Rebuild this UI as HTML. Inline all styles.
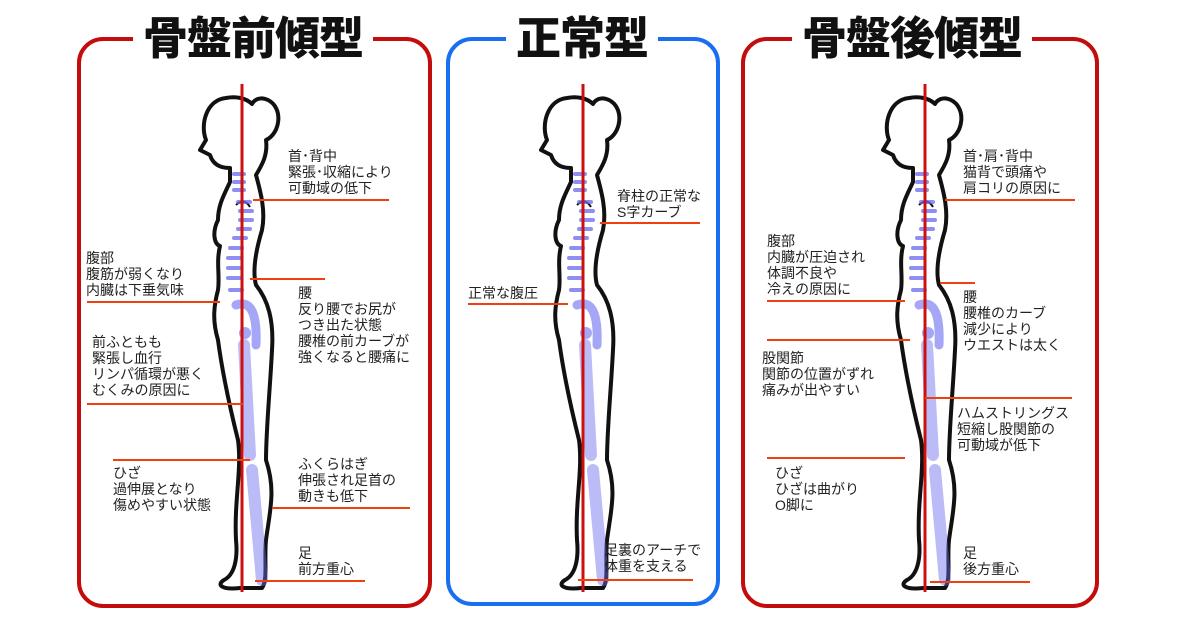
<!DOCTYPE html>
<html><head><meta charset="utf-8"><style>
body{margin:0;background:#fff;}
.w{position:relative;width:1200px;height:630px;overflow:hidden;background:#fff;font-family:"Liberation Sans","Noto Sans CJK JP",sans-serif;}
.box{position:absolute;border:4px solid #c40c0c;border-radius:26px;box-sizing:border-box;}
.t{position:absolute;font-family:"Noto Sans CJK JP",sans-serif;font-weight:900;font-size:45px;line-height:50px;background:#fff;padding:0 10px;color:#111;letter-spacing:-1px;white-space:nowrap;}
.l{position:absolute;font-size:14px;line-height:16px;color:#222;white-space:nowrap;}
svg{position:absolute;left:0;top:0;}
</style></head><body><div class="w">
<div class="box" style="left:77px;top:37px;width:355px;height:571px"></div>
<div class="box" style="left:446px;top:37px;width:274px;height:569px;border-color:#1a6ff0"></div>
<div class="box" style="left:741px;top:37px;width:358px;height:571px"></div>
<div class="t" style="left:133px;top:10px">骨盤前傾型</div>
<div class="t" style="left:506px;top:10px">正常型</div>
<div class="t" style="left:792px;top:10px">骨盤後傾型</div>
<svg width="1200" height="630">
<defs>
<g id="body">
<path d="M226,98 C206,100 200,125 206,140 L200,150 L210,155 C214,168 226,168 230,168 L230,182 C224,195 218,205 218,220 C212,232 214,244 220,246 C216,262 220,276 218,290 C214,305 212,320 218,340 C222,370 228,400 238,440 C242,470 234,500 236,540 C238,560 234,575 224,580 C216,585 222,590 240,588 L262,588 C268,580 264,560 266,540 C270,510 276,490 266,460 C266,430 270,390 272,350 C274,320 268,300 256,285 C252,270 256,250 262,230 C266,210 260,190 256,175 C262,165 268,155 266,140 C280,134 284,108 268,100 C260,96 254,100 252,104 C246,98 236,96 226,98 Z" fill="#fff" stroke="#111" stroke-width="4" stroke-linejoin="round"/>
<path d="M236,205 q8,-8 14,2" fill="none" stroke="#111" stroke-width="2"/>
<g fill="#6a6af0" opacity="0.75">
<rect x="232" y="172" width="14" height="4" rx="2"/><rect x="232" y="180" width="14" height="4" rx="2"/><rect x="232" y="188" width="14" height="4" rx="2"/>
<rect x="236" y="200" width="16" height="4" rx="2"/><rect x="238" y="209" width="16" height="4" rx="2"/><rect x="238" y="218" width="16" height="4" rx="2"/><rect x="236" y="227" width="16" height="4" rx="2"/><rect x="232" y="236" width="16" height="4" rx="2"/>
<rect x="228" y="246" width="16" height="4" rx="2"/><rect x="226" y="256" width="16" height="4" rx="2"/><rect x="226" y="266" width="16" height="4" rx="2"/><rect x="226" y="276" width="16" height="4" rx="2"/><rect x="228" y="288" width="16" height="4" rx="2"/>
</g>
<path d="M236,305 q22,-8 20,40" fill="none" stroke="#6a6af0" stroke-width="9" opacity="0.6" stroke-linecap="round"/>
<circle cx="245" cy="333" r="6" fill="#6a6af0" opacity="0.6"/>
<path d="M244,345 L250,455 M252,470 L262,580" stroke="#6a6af0" stroke-width="12" opacity="0.45" stroke-linecap="round"/>
</g>
</defs>
<use href="#body"/>
<use href="#body" transform="translate(341,0)"/>
<use href="#body" transform="translate(683,0)"/>
<g stroke="#cc1010" stroke-width="3">
<line x1="242" y1="84" x2="242" y2="592"/><line x1="583" y1="84" x2="583" y2="592"/><line x1="925" y1="84" x2="925" y2="592"/>
</g>
<g stroke="#f04010" stroke-width="2">
<line x1="253" y1="200" x2="389" y2="200"/><line x1="87" y1="302" x2="220" y2="302"/><line x1="250" y1="279" x2="325" y2="279"/>
<line x1="87" y1="404" x2="243" y2="404"/><line x1="113" y1="460" x2="250" y2="460"/><line x1="272" y1="508" x2="410" y2="508"/><line x1="255" y1="581" x2="365" y2="581"/>
<line x1="600" y1="223" x2="700" y2="223"/><line x1="468" y1="304" x2="568" y2="304"/><line x1="578" y1="580" x2="693" y2="580"/>
<line x1="945" y1="200" x2="1075" y2="200"/><line x1="767" y1="301" x2="905" y2="301"/><line x1="940" y1="283" x2="975" y2="283"/>
<line x1="767" y1="340" x2="910" y2="340"/><line x1="925" y1="398" x2="1072" y2="398"/><line x1="767" y1="458" x2="905" y2="458"/><line x1="930" y1="582" x2="1030" y2="582"/>
</g>
</svg>
<div class="l" style="left:288px;top:148px">首･背中<br>緊張･収縮により<br>可動域の低下</div>
<div class="l" style="left:86px;top:250px">腹部<br>腹筋が弱くなり<br>内臓は下垂気味</div>
<div class="l" style="left:298px;top:285px">腰<br>反り腰でお尻が<br>つき出た状態<br>腰椎の前カーブが<br>強くなると腰痛に</div>
<div class="l" style="left:92px;top:334px">前ふともも<br>緊張し血行<br>リンパ循環が悪く<br>むくみの原因に</div>
<div class="l" style="left:113px;top:465px">ひざ<br>過伸展となり<br>傷めやすい状態</div>
<div class="l" style="left:298px;top:456px">ふくらはぎ<br>伸張され足首の<br>動きも低下</div>
<div class="l" style="left:298px;top:545px">足<br>前方重心</div>
<div class="l" style="left:617px;top:188px">脊柱の正常な<br>S字カーブ</div>
<div class="l" style="left:468px;top:285px">正常な腹圧</div>
<div class="l" style="left:604px;top:542px">足裏のアーチで<br>体重を支える</div>
<div class="l" style="left:963px;top:148px">首･肩･背中<br>猫背で頭痛や<br>肩コリの原因に</div>
<div class="l" style="left:767px;top:233px">腹部<br>内臓が圧迫され<br>体調不良や<br>冷えの原因に</div>
<div class="l" style="left:963px;top:289px">腰<br>腰椎のカーブ<br>減少により<br>ウエストは太く</div>
<div class="l" style="left:762px;top:350px">股関節<br>関節の位置がずれ<br>痛みが出やすい</div>
<div class="l" style="left:957px;top:405px">ハムストリングス<br>短縮し股関節の<br>可動域が低下</div>
<div class="l" style="left:775px;top:465px">ひざ<br>ひざは曲がり<br>O脚に</div>
<div class="l" style="left:963px;top:545px">足<br>後方重心</div>
</div></body></html>
